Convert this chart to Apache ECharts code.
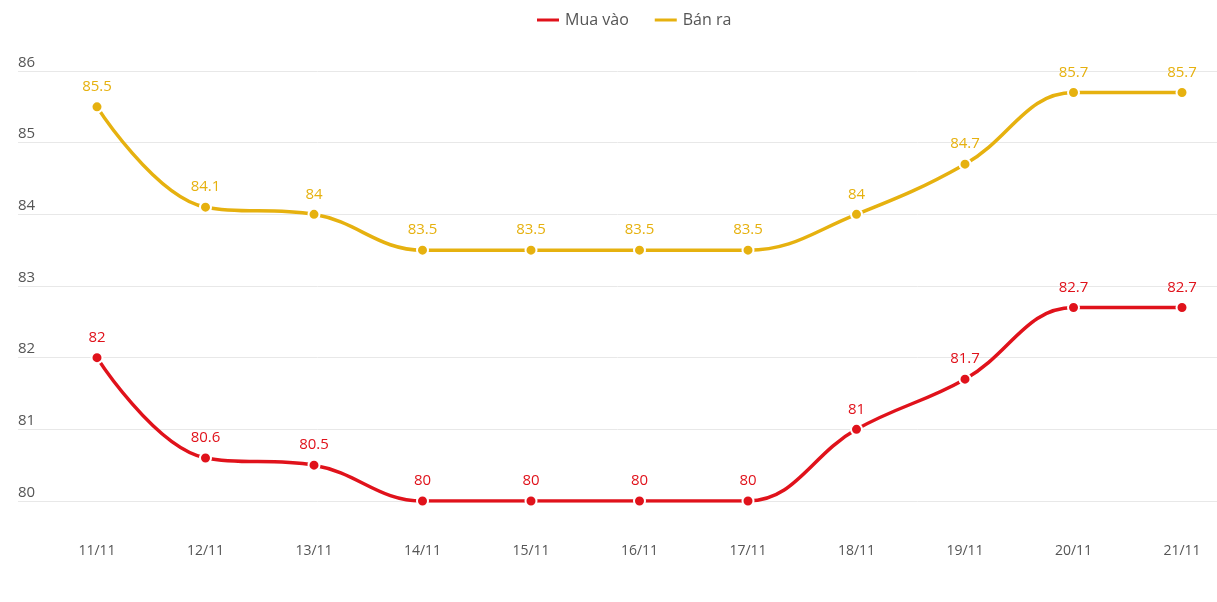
<!DOCTYPE html>
<html><head><meta charset="utf-8">
<script src="https://cdn.jsdelivr.net/npm/echarts@6/dist/echarts.min.js"></script>
<style>html,body{margin:0;padding:0;background:#fff}#c{width:1217px;height:602px}</style>
</head><body><div id="c"></div>
<script>
const categories = ['11/11','12/11','13/11','14/11','15/11','16/11','17/11','18/11','19/11','20/11','21/11'];
const muaVao = [82, 80.6, 80.5, 80, 80, 80, 80, 81, 81.7, 82.7, 82.7];
const banRa = [85.5, 84.1, 84, 83.5, 83.5, 83.5, 83.5, 84, 84.7, 85.7, 85.7];
const yTicks = [80, 81, 82, 83, 84, 85, 86];
const seriesNames = ['Mua vào', 'Bán ra'];
const colors = ['#e0121b', '#e6b10f'];

const chart = echarts.init(document.getElementById('c'), null, {renderer:'canvas'});
function mkSeries(name, data, color){
  return {
    name, type:'line', data, xAxisIndex:1, yAxisIndex:1,
    smooth:0.4,
    symbol:'circle', symbolSize:11,
    lineStyle:{width:3.5, color},
    itemStyle:{color, borderColor:'#fff', borderWidth:2},
    label:{show:true, position:'top', distance:6, color, fontSize:15, fontFamily:'Open Sans'},
    emphasis:{disabled:true}
  };
}
chart.setOption({
  animation:false,
  color: colors,
  legend:{
    top:7, left:530, itemGap:24,
    icon:'rect', itemWidth:24, itemHeight:5,
    textStyle:{color:'#555', fontSize:16, fontFamily:'Open Sans'},
    data: seriesNames
  },
  grid:[
    {left:18, right:0, top:71, bottom:101},
    {left:97, right:35, top:71, bottom:101}
  ],
  xAxis:[
    {type:'category', gridIndex:0, show:false, data:categories},
    {type:'category', gridIndex:1, data:categories, boundaryGap:false,
     axisLine:{show:false}, axisTick:{show:false},
     axisLabel:{margin:43, color:'#555', fontSize:14, fontFamily:'Open Sans', interval:0}}
  ],
  yAxis:[
    {type:'value', gridIndex:0, min:yTicks[0], max:yTicks[yTicks.length-1], interval:1,
     axisLine:{show:false}, axisTick:{show:false},
     splitLine:{lineStyle:{color:'#e8e8e8', width:1}},
     axisLabel:{inside:true, margin:0, verticalAlign:'bottom', padding:[0,0,1,0], color:'#555', fontSize:15, fontFamily:'Open Sans'}},
    {type:'value', gridIndex:1, min:yTicks[0], max:yTicks[yTicks.length-1], interval:1, show:false, splitLine:{show:false}}
  ],
  series:[ mkSeries(seriesNames[0], muaVao, colors[0]), mkSeries(seriesNames[1], banRa, colors[1]) ]
});
</script></body></html>
